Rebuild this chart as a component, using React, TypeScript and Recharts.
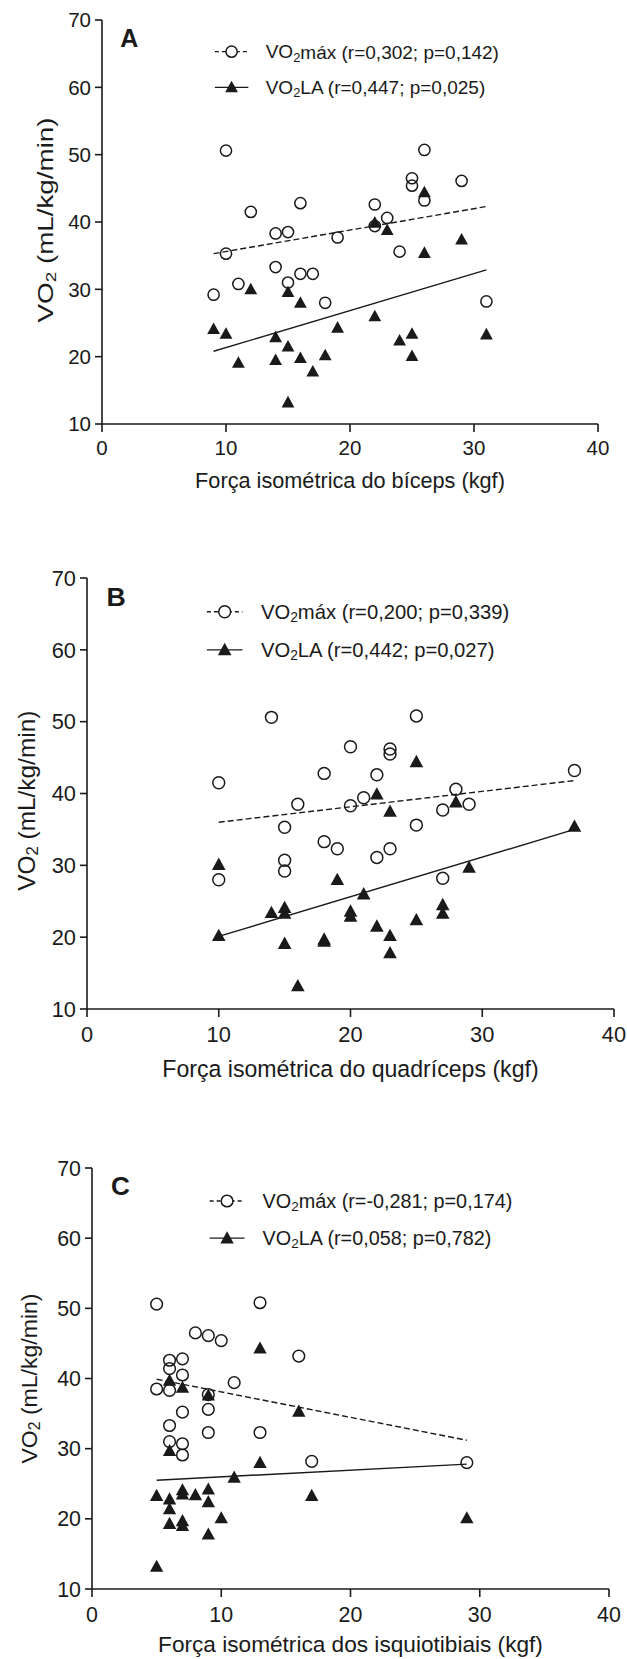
import React from "react";
import { ScatterChart, Scatter, XAxis, YAxis, ReferenceLine } from "recharts";

const FONT = "'Liberation Sans', Arial, sans-serif";
const INK = "#1a1a1a";

const xTicks = [0, 10, 20, 30, 40];
const yTicks = [10, 20, 30, 40, 50, 60, 70];

// Panel A – bíceps
const aMaxX = [10, 25, 25, 26, 29, 16, 12, 22, 23, 22, 26, 14, 15, 19, 10, 24, 14, 9, 11, 15, 16, 17, 18, 31];
const aMaxY = [50.6, 46.5, 45.4, 50.7, 46.1, 42.8, 41.5, 42.6, 40.6, 39.4, 43.2, 38.3, 38.5, 37.7, 35.3, 35.6, 33.3, 29.2, 30.8, 31.0, 32.3, 32.3, 28.0, 28.2];
const aLaX = [26, 22, 23, 29, 26, 12, 15, 16, 22, 9, 10, 19, 14, 15, 25, 24, 31, 11, 14, 16, 18, 17, 25, 15];
const aLaY = [44.4, 39.9, 38.8, 37.4, 35.4, 30.0, 29.6, 28.0, 26.0, 24.1, 23.4, 24.3, 22.9, 21.5, 23.4, 22.4, 23.3, 19.1, 19.5, 19.8, 20.2, 17.8, 20.1, 13.2];
const aMaxFit = [[9, 35.3], [31, 42.3]];
const aLaFit = [[9, 20.8], [31, 32.9]];

// Panel B – quadríceps
const bMaxX = [14, 25, 20, 23, 23, 10, 18, 22, 37, 21, 28, 16, 20, 29, 27, 15, 25, 18, 19, 22, 23, 15, 15, 10, 27];
const bMaxY = [50.6, 50.8, 46.5, 46.2, 45.5, 41.5, 42.8, 42.6, 43.2, 39.4, 40.6, 38.5, 38.3, 38.5, 37.7, 35.3, 35.6, 33.3, 32.3, 31.1, 32.3, 30.7, 29.2, 28.0, 28.2];
const bLaX = [25, 22, 23, 28, 37, 10, 29, 19, 21, 14, 15, 15, 20, 20, 27, 27, 25, 22, 10, 15, 18, 18, 23, 23, 16];
const bLaY = [44.4, 39.9, 37.5, 38.8, 35.4, 30.1, 29.7, 28.0, 26.0, 23.4, 24.1, 23.3, 23.6, 22.9, 24.5, 23.3, 22.4, 21.5, 20.2, 19.1, 19.7, 19.4, 20.2, 17.8, 13.2];
const bMaxFit = [[10, 36.0], [37, 41.8]];
const bLaFit = [[10, 20.1], [37, 35.0]];

// Panel C – isquiotibiais
const cMaxX = [5, 13, 8, 9, 10, 16, 6, 7, 6, 7, 11, 5, 6, 9, 7, 9, 6, 9, 13, 6, 7, 7, 17, 29];
const cMaxY = [50.6, 50.8, 46.5, 46.1, 45.4, 43.2, 42.6, 42.8, 41.4, 40.5, 39.4, 38.5, 38.3, 37.7, 35.2, 35.6, 33.3, 32.3, 32.3, 31.0, 30.7, 29.1, 28.2, 28.0];
const cLaX = [13, 6, 7, 9, 16, 6, 13, 11, 5, 6, 7, 7, 8, 9, 9, 17, 6, 6, 7, 7, 10, 29, 9, 5];
const cLaY = [44.3, 39.7, 38.7, 37.6, 35.3, 29.7, 28.0, 25.9, 23.3, 22.8, 24.1, 23.5, 23.4, 24.2, 22.4, 23.3, 21.4, 19.3, 19.7, 19.0, 20.1, 20.1, 17.8, 13.2];
const cMaxFit = [[5, 39.9], [29, 31.2]];
const cLaFit = [[5, 25.5], [29, 27.8]];

const letters = ["A", "B", "C"];
const maxStats = ["(r=0,302; p=0,142)", "(r=0,200; p=0,339)", "(r=-0,281; p=0,174)"];
const laStats = ["(r=0,447; p=0,025)", "(r=0,442; p=0,027)", "(r=0,058; p=0,782)"];
const xTitles = [
  "Força isométrica do bíceps (kgf)",
  "Força isométrica do quadríceps (kgf)",
  "Força isométrica dos isquiotibiais (kgf)",
];

const zip = (xs: number[], ys: number[]) => xs.map((x, i) => ({ x, y: ys[i] }));

const layouts = [
  { top: 0, left: 102, right: 598, plotTop: 20, plotBottom: 424, bottomPad: 20, yLabelX: 45, yLabelLen: 205, yLabelC: 40.3, s: 1, titleOff: 56 },
  { top: 540, left: 87, right: 614, plotTop: 38, plotBottom: 469, bottomPad: 20, yLabelX: 27, yLabelLen: 180, yLabelC: 39, s: 1.065, titleOff: 56 },
  { top: 1120, left: 92, right: 609, plotTop: 48, plotBottom: 469, bottomPad: 0, yLabelX: 28.5, yLabelLen: 170, yLabelC: 40, s: 1.043, titleOff: 53 },
];

function makeCircle(s: number) {
  return (props: any) => {
    const { cx, cy } = props;
    if (cx == null || cy == null) return null;
    return <circle cx={cx} cy={cy} r={5.6 * s} fill="none" stroke={INK} strokeWidth={1.5} />;
  };
}

function triPoints(cx: number, cy: number, s: number) {
  const hw = 6.4 * s;
  return `${cx - hw},${cy + 5 * s} ${cx + hw},${cy + 5 * s} ${cx},${cy - 6.6 * s}`;
}

function makeTri(s: number) {
  return (props: any) => {
    const { cx, cy } = props;
    if (cx == null || cy == null) return null;
    return <polygon points={triPoints(cx, cy, s)} fill={INK} />;
  };
}

function Panel({ idx, maxPts, laPts, maxFit, laFit }: any) {
  const L = layouts[idx];
  const s = L.s;
  const H = L.plotBottom + 70 + L.bottomPad;
  const W = 627;
  const px = (x: number) => L.left + (x / 40) * (L.right - L.left);
  const py = (y: number) => L.plotTop + ((70 - y) / 60) * (L.plotBottom - L.plotTop);
  const fs = 19 * s;
  const tickFs = 20.5 * s;
  const tickLen = 8;
  const xTickMargin = 24 * s - tickLen - 0.36 * tickFs;
  const axisStyle = { stroke: INK, strokeWidth: 1.6 };
  return (
    <div style={{ position: "absolute", left: 0, top: L.top, width: W, height: H }}>
      <ScatterChart
        width={W}
        height={H}
        margin={{ top: L.plotTop, right: W - L.right, left: 0, bottom: L.bottomPad }}
      >
        <XAxis
          type="number"
          dataKey="x"
          domain={[0, 40]}
          ticks={xTicks}
          height={70}
          tickSize={tickLen}
          tickMargin={xTickMargin}
          axisLine={axisStyle}
          tickLine={axisStyle}
          tick={{ fontSize: tickFs, fill: INK, fontFamily: FONT }}
          allowDataOverflow
        />
        <YAxis
          type="number"
          dataKey="y"
          domain={[10, 70]}
          ticks={yTicks}
          width={L.left}
          tickSize={7}
          tickMargin={4}
          axisLine={axisStyle}
          tickLine={axisStyle}
          tick={{ fontSize: tickFs, fill: INK, fontFamily: FONT }}
          allowDataOverflow
        />
        <ReferenceLine
          segment={[{ x: maxFit[0][0], y: maxFit[0][1] }, { x: maxFit[1][0], y: maxFit[1][1] }]}
          stroke={INK}
          strokeWidth={1.4}
          strokeDasharray="6 3"
        />
        <ReferenceLine
          segment={[{ x: laFit[0][0], y: laFit[0][1] }, { x: laFit[1][0], y: laFit[1][1] }]}
          stroke={INK}
          strokeWidth={1.4}
        />
        <Scatter data={maxPts} shape={makeCircle(s)} isAnimationActive={false} />
        <Scatter data={laPts} shape={makeTri(s)} isAnimationActive={false} />
      </ScatterChart>
      <svg
        width={W}
        height={H}
        style={{ position: "absolute", left: 0, top: 0, pointerEvents: "none" }}
        fontFamily={FONT}
      >
        <text x={px(2.2)} y={py(67.4)} fontSize={25 * s} fontWeight="bold" fill={INK} textAnchor="middle" dominantBaseline="central">
          {letters[idx]}
        </text>
        {/* legend row 1 */}
        <line x1={px(9.1)} x2={px(11.8)} y1={py(65.3)} y2={py(65.3)} stroke={INK} strokeWidth={1.4} strokeDasharray="4 3" />
        <circle cx={px(10.45)} cy={py(65.3)} r={5.6 * s} fill="#fff" stroke={INK} strokeWidth={1.5} />
        <text x={px(13.2)} y={py(65.3)} fontSize={fs} fill={INK} dominantBaseline="central">
          VO<tspan fontSize={13 * s} dy={5 * s}>2</tspan><tspan dy={-5 * s}>máx {maxStats[idx]}</tspan>
        </text>
        {/* legend row 2 */}
        <line x1={px(9.1)} x2={px(11.8)} y1={py(60)} y2={py(60)} stroke={INK} strokeWidth={1.4} />
        <polygon points={triPoints(px(10.45), py(60), s)} fill={INK} />
        <text x={px(13.2)} y={py(60)} fontSize={fs} fill={INK} dominantBaseline="central">
          VO<tspan fontSize={13 * s} dy={5 * s}>2</tspan><tspan dy={-5 * s}>LA {laStats[idx]}</tspan>
        </text>
        {/* y title */}
        <text
          transform={`translate(${L.yLabelX},${py(L.yLabelC)}) rotate(-90)`}
          fontSize={22 * s}
          fill={INK}
          textAnchor="middle"
          dominantBaseline="central"
          textLength={L.yLabelLen}
          lengthAdjust="spacingAndGlyphs"
        >
          VO<tspan fontSize={15 * s} dy={5}>2</tspan><tspan dy={-5}> (mL/kg/min)</tspan>
        </text>
        {/* x title */}
        <text x={px(20)} y={L.plotBottom + L.titleOff * s} fontSize={21.7 * s} fill={INK} textAnchor="middle" dominantBaseline="central">
          {xTitles[idx]}
        </text>
      </svg>
    </div>
  );
}

export default function App() {
  return (
    <div style={{ position: "absolute", left: 0, top: 0, width: 627, height: 1659, background: "#fff", overflow: "hidden" }}>
      <Panel idx={0} maxPts={zip(aMaxX, aMaxY)} laPts={zip(aLaX, aLaY)} maxFit={aMaxFit} laFit={aLaFit} />
      <Panel idx={1} maxPts={zip(bMaxX, bMaxY)} laPts={zip(bLaX, bLaY)} maxFit={bMaxFit} laFit={bLaFit} />
      <Panel idx={2} maxPts={zip(cMaxX, cMaxY)} laPts={zip(cLaX, cLaY)} maxFit={cMaxFit} laFit={cLaFit} />
    </div>
  );
}
